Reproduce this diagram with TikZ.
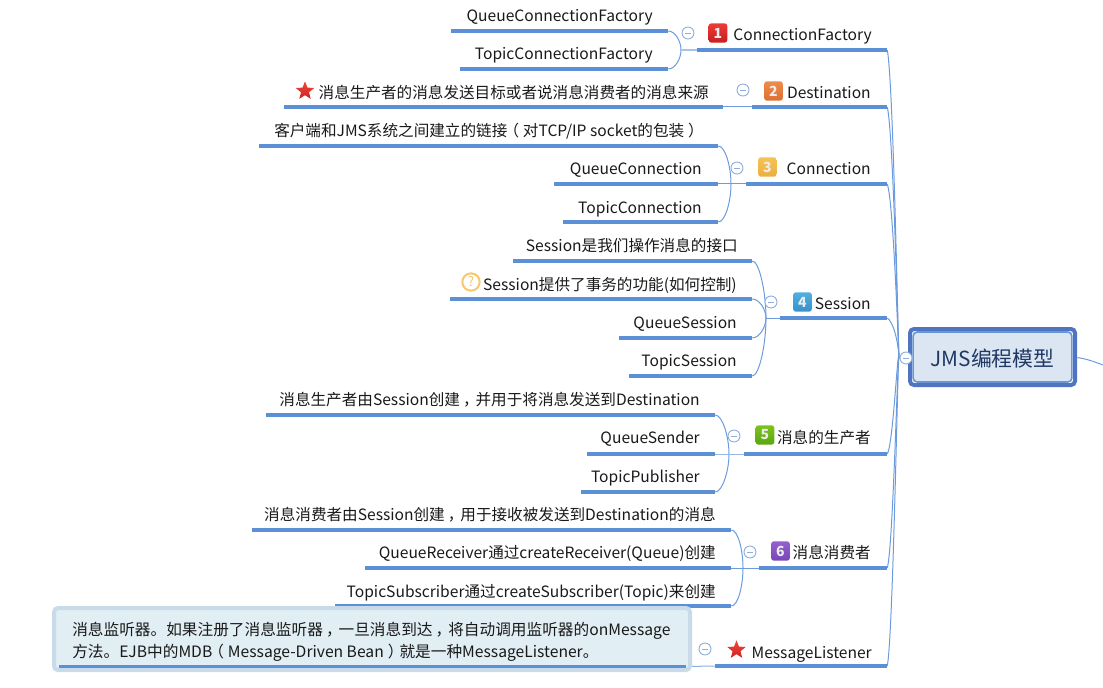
\documentclass[tikz,border=0pt]{standalone}
\usepackage{fontspec}
\setmainfont{Noto Sans CJK SC}
\usetikzlibrary{calc,shapes.geometric,backgrounds}
\definecolor{barc}{HTML}{5B8FD6}
\definecolor{linec}{HTML}{6C9BDD}
\definecolor{circc}{HTML}{8FAEDD}
\tikzset{
  x=0.75pt,y=-0.75pt,
  lab/.style={anchor=east,inner sep=0pt,font=\fontsize{11.7pt}{14pt}\selectfont,text=black!90,text height=12pt,text depth=2pt},
  tbar/.style={fill=barc,draw=none,inner sep=0pt,minimum height=2.4pt,rectangle},
  wire/.style={draw=linec,line width=0.75pt},
  coll/.style={circle,draw=circc,fill=white,line width=0.7pt,minimum size=9pt,inner sep=0pt,
    path picture={\draw[circc,line width=0.7pt] ([xshift=-2.2pt]path picture bounding box.center) -- ([xshift=2.2pt]path picture bounding box.center);}},
  badge/.style={rounded corners=2pt,minimum width=14pt,minimum height=14.5pt,inner sep=0pt,text=white!92!black,font=\fontsize{10.5pt}{12pt}\selectfont\bfseries},
  redstar/.style={star,star points=5,star point ratio=2.3,top color={rgb,255:red,240;green,70;blue,60},bottom color={rgb,255:red,205;green,35;blue,35},minimum size=14.5pt,inner sep=0pt},
}
\newcommand{\tbr}[4]{\node[tbar,minimum width={(#3-#2)*0.75pt}] (#1) at ({(#2+#3)/2},#4) {};}
\newcommand{\kid}[2]{\draw[wire] (#1.east) .. controls +(7,0) and ($(#1.east -| #2)!0.55!(#2)$) .. (#2);}
\newcommand{\mainw}[2]{\draw[wire] (#1.east) .. controls +(6,#2) and (898,340) .. (hub) -- (root.west);}
\newcommand{\lpn}{\hspace*{-.25em}（\hspace{.25em}}
\newcommand{\rpn}{\hspace{.25em}）\hspace{-.25em}}
\newcommand{\cmm}{\hspace{.2em}，\hspace{-.2em}}
\begin{document}
\begin{tikzpicture}
\useasboundingbox (0,0) rectangle (1103,688);
% root
\draw[draw=black!0,fill=white,rounded corners=3pt] (908,327) rectangle (1077,387);
\draw[line width=3pt,color={rgb,255:red,79;green,116;blue,192},rounded corners=3pt] (910,329) rectangle (1075,385);
\node[draw={rgb,255:red,106;green,150;blue,216},fill={rgb,255:red,220;green,230;blue,242},line width=1.2pt,rounded corners=3pt,minimum width=119pt,minimum height=37.5pt,inner sep=0pt,text={rgb,255:red,31;green,56;blue,100},font=\fontsize{15.6pt}{18pt}\selectfont,text height=14.5pt,text depth=0.5pt] (root) at (992.5,357) {JMS编程模型};
\coordinate (hub) at (899,358);
\coordinate (rfree) at (1103,365);
% main bars
\tbr{m1}{697}{887}{50}
\tbr{m2}{752}{887}{107}
\tbr{m3}{746}{887}{184}
\tbr{m4}{780}{887}{318}
\tbr{m5}{744}{887}{454}
\tbr{m6}{759}{887}{568}
\tbr{m7}{715}{887}{666}
% child bars
\tbr{a1}{451}{668}{31}
\tbr{a2}{460}{668}{69}
\tbr{b1}{284}{723}{107}
\tbr{c1}{259}{718}{146}
\tbr{c2}{554}{718}{184}
\tbr{c3}{563}{718}{222}
\tbr{d1}{513}{752}{261}
\tbr{d2}{450}{752}{299}
\tbr{d3}{619}{752}{338}
\tbr{d4}{629}{752}{376}
\tbr{e1}{266}{715}{415}
\tbr{e2}{587}{715}{454}
\tbr{e3}{581}{715}{492}
\tbr{f1}{252}{731}{530}
\tbr{f2}{365}{731}{568}
\tbr{f3}{335}{731}{606}
% note
\node[draw={rgb,255:red,201;green,218;blue,232},fill={rgb,255:red,225;green,238;blue,244},line width=3pt,rounded corners=3pt,minimum width=477pt,minimum height=46.5pt,inner sep=0pt] (note) at (372,639) {};
\tbr{g1}{59}{686}{666.5}
% wires
\begin{pgfonlayer}{background}
\mainw{m1}{31}
\mainw{m2}{25}
\mainw{m3}{17}
\mainw{m4}{4}
\mainw{m5}{-10}
\mainw{m6}{-21}
\mainw{m7}{-31}
\draw[wire] (root.east) .. controls (1085,358) and (1095,362) .. (rfree);
\coordinate (ja) at (681,50);
\kid{a1}{ja}\kid{a2}{ja}
\draw[wire,draw=linec!60,line width=1.1pt] (ja) -- (m1.west);
\draw[wire] (b1.east) -- (m2.west);
\coordinate (jc) at (731,184);
\kid{c1}{jc}\kid{c3}{jc}
\draw[wire] (c2.east) -- (m3.west);
\coordinate (jd) at (766,318);
\kid{d1}{jd}\kid{d2}{jd}\kid{d3}{jd}\kid{d4}{jd}
\draw[wire] (jd) -- (m4.west);
\coordinate (je) at (729,454);
\kid{e1}{je}\kid{e3}{je}
\draw[wire,draw=linec!70] (e2.east) -- (m5.west);
\coordinate (jf) at (743,568);
\kid{f1}{jf}\kid{f3}{jf}
\draw[wire] (f2.east) -- (m6.west);
\draw[wire,draw=linec!80] (g1.east) -- (m7.west);
\end{pgfonlayer}
% collapse circles
\node[coll] (k0) at (906,358) {};
\node[coll] (k1) at (688,33) {};
\node[coll] (k2) at (743,90) {};
\node[coll] (k3) at (737,168) {};
\node[coll] (k4) at (771,302) {};
\node[coll] (k5) at (734,436) {};
\node[coll] (k6) at (750,552) {};
\node[coll] (k7) at (705,649) {};
% main labels
\node[lab] (t1) at (872,34) {ConnectionFactory};
\node[lab] (t2) at (871,92) {Destination};
\node[lab] (t3) at (871,168) {Connection};
\node[lab] (t4) at (871,303) {Session};
\node[lab] (t5) at (871,437) {消息的生产者};
\node[lab] (t6) at (871,552) {消息消费者};
\node[lab] (t7) at (872,652) {MessageListener};
% badges
\node[badge,top color={rgb,255:red,235;green,60;blue,55},bottom color={rgb,255:red,200;green,30;blue,30}] (i1) at (718,33) {1};
\node[badge,top color={rgb,255:red,238;green,140;blue,75},bottom color={rgb,255:red,222;green,110;blue,50}] (i2) at (773.5,91) {2};
\node[badge,top color={rgb,255:red,245;green,195;blue,85},bottom color={rgb,255:red,235;green,175;blue,60}] (i3) at (767.5,167) {3};
\node[badge,top color={rgb,255:red,80;green,175;blue,225},bottom color={rgb,255:red,55;green,145;blue,205}] (i4) at (802.5,302) {4};
\node[badge,top color={rgb,255:red,125;green,195;blue,30},bottom color={rgb,255:red,90;green,165;blue,15}] (i5) at (765,435) {5};
\node[badge,top color={rgb,255:red,150;green,95;blue,205},bottom color={rgb,255:red,120;green,70;blue,185}] (i6) at (780.5,551) {6};
\node[redstar] (s7) at (736.5,650) {};
\node[redstar] (s2) at (305,91) {};
\node[circle,draw={rgb,255:red,248;green,200;blue,110},fill=white,line width=1.5pt,minimum size=13pt,inner sep=0pt,text={rgb,255:red,248;green,200;blue,110},font=\fontsize{10pt}{10pt}\selectfont] (q) at (471,282) {?};
% child labels
\node[lab] (ta1) at (653,15) {QueueConnectionFactory};
\node[lab] (ta2) at (653,53) {TopicConnectionFactory};
\node[lab] (tb1) at (709,92) {消息生产者的消息发送目标或者说消息消费者的消息来源};
\node[lab] (tc1) at (704,130) {客户端和JMS系统之间建立的链接\lpn 对TCP/IP socket的包装\rpn};
\node[lab] (tc2) at (702,168) {QueueConnection};
\node[lab] (tc3) at (702,207) {TopicConnection};
\node[lab] (td1) at (738,245) {Session是我们操作消息的接口};
\node[lab] (td2) at (737,284) {Session提供了事务的功能(如何控制)};
\node[lab] (td3) at (737,322) {QueueSession};
\node[lab] (td4) at (737,360) {TopicSession};
\node[lab] (te1) at (700,399) {消息生产者由Session创建\cmm 并用于将消息发送到Destination};
\node[lab] (te2) at (700,437) {QueueSender};
\node[lab] (te3) at (700,476) {TopicPublisher};
\node[lab] (tf1) at (716,514) {消息消费者由Session创建\cmm 用于接收被发送到Destination的消息};
\node[lab] (tf2) at (716,552) {QueueReceiver通过createReceiver(Queue)创建};
\node[lab] (tf3) at (716,591) {TopicSubscriber通过createSubscriber(Topic)来创建};
\node[lab,anchor=west,text height=,text depth=,align=left,font=\fontsize{11.75pt}{16.5pt}\selectfont] (tg) at (72,642) {消息监听器。如果注册了消息监听器\cmm 一旦消息到达\cmm 将自动调用监听器的onMessage\\方法。EJB中的MDB\lpn Message-Driven Bean\rpn 就是一种MessageListener。};
\end{tikzpicture}
\end{document}
